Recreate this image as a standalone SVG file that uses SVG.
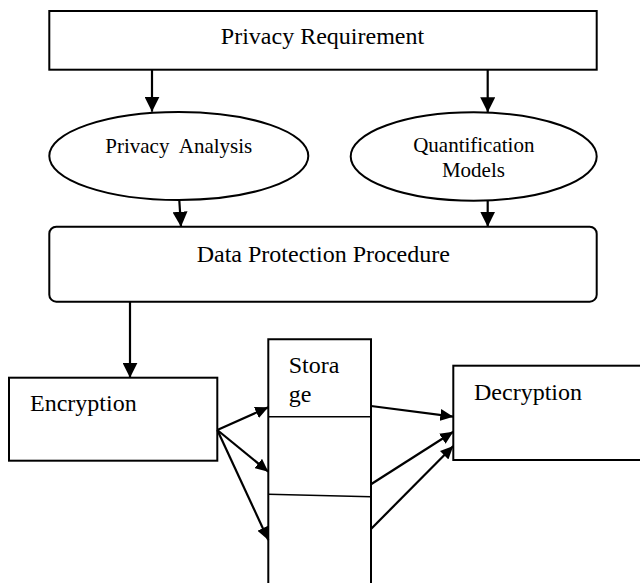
<svg xmlns="http://www.w3.org/2000/svg" width="640" height="583" viewBox="0 0 640 583">
  <style>
    .box { fill: #ffffff; stroke: #000000; stroke-width: 2; }
    .thin { fill: none; stroke: #000000; stroke-width: 1.6; }
    .lbl { font-family: "Liberation Serif", "Times New Roman", serif; font-size: 24px; fill: #000000; }
    .sm { font-size: 21px; }
    .conn { fill: none; stroke: #000000; stroke-width: 2.2; }
  </style>
  <defs>
    <marker id="head" markerUnits="userSpaceOnUse" markerWidth="15" markerHeight="15" refX="15" refY="7.5" orient="auto">
      <path d="M0,0 L15,7.5 L0,15 z" fill="#000000"/>
    </marker>
    <marker id="headS" markerUnits="userSpaceOnUse" markerWidth="13" markerHeight="12" refX="13" refY="6" orient="auto">
      <path d="M0,0 L13,6 L0,12 z" fill="#000000"/>
    </marker>
  </defs>
  <rect width="640" height="583" fill="#ffffff"/>

  <g id="privacy-requirement">
    <rect class="box" x="49.3" y="11" width="547.4" height="58.7"/>
    <text class="lbl" x="322.5" y="44" text-anchor="middle">Privacy Requirement</text>
  </g>

  <g id="privacy-analysis">
    <ellipse class="box" cx="178.8" cy="156" rx="129.5" ry="44"/>
    <text class="lbl sm" x="178.8" y="152.7" text-anchor="middle" xml:space="preserve">Privacy  Analysis</text>
  </g>

  <g id="quantification-models">
    <ellipse class="box" cx="473.7" cy="156.5" rx="123" ry="44.2"/>
    <text class="lbl sm" x="473.8" y="152.3" text-anchor="middle">Quantification</text>
    <text class="lbl sm" x="473.4" y="176.7" text-anchor="middle">Models</text>
  </g>

  <g id="data-protection">
    <rect class="box" x="49.3" y="226.7" width="547.4" height="75" rx="7" ry="7"/>
    <text class="lbl" x="323.3" y="262.3" text-anchor="middle">Data Protection Procedure</text>
  </g>

  <g id="encryption">
    <rect class="box" x="9" y="377.7" width="208.3" height="83"/>
    <text class="lbl" x="30" y="410.7">Encryption</text>
  </g>

  <g id="storage">
    <path class="box" d="M268.3,583 V339.3 H371 V583" fill="none"/>
    <line class="thin" x1="268.3" y1="416.7" x2="371" y2="416.7"/>
    <line class="thin" x1="268.3" y1="494.3" x2="371" y2="496.7"/>
    <text class="lbl" x="288.7" y="373.3">Stora</text>
    <text class="lbl" x="288.7" y="402">ge</text>
  </g>

  <g id="decryption">
    <rect class="box" x="453.3" y="365.7" width="195" height="94.3"/>
    <text class="lbl" x="474" y="400">Decryption</text>
  </g>

  <g id="connectors">
    <line class="conn" x1="152" y1="70" x2="152" y2="111.7" marker-end="url(#head)"/>
    <line class="conn" x1="487.7" y1="70" x2="487.7" y2="112.3" marker-end="url(#head)"/>
    <line class="conn" x1="179.3" y1="200" x2="181" y2="226.7" marker-end="url(#head)"/>
    <line class="conn" x1="487.7" y1="200.7" x2="487.7" y2="226.7" marker-end="url(#head)"/>
    <line class="conn" x1="130" y1="301.7" x2="130" y2="377.7" marker-end="url(#head)"/>
    <line class="conn" x1="217.3" y1="430" x2="268.3" y2="407.3" marker-end="url(#headS)"/>
    <line class="conn" x1="217.3" y1="430" x2="268.3" y2="471.7" marker-end="url(#headS)"/>
    <line class="conn" x1="217.3" y1="430" x2="268.3" y2="540" marker-end="url(#headS)"/>
    <line class="conn" x1="371" y1="406" x2="453.3" y2="416.7" marker-end="url(#headS)"/>
    <line class="conn" x1="371" y1="484.3" x2="453.3" y2="431.7" marker-end="url(#headS)"/>
    <line class="conn" x1="371" y1="529" x2="453.3" y2="446" marker-end="url(#headS)"/>
  </g>
</svg>
